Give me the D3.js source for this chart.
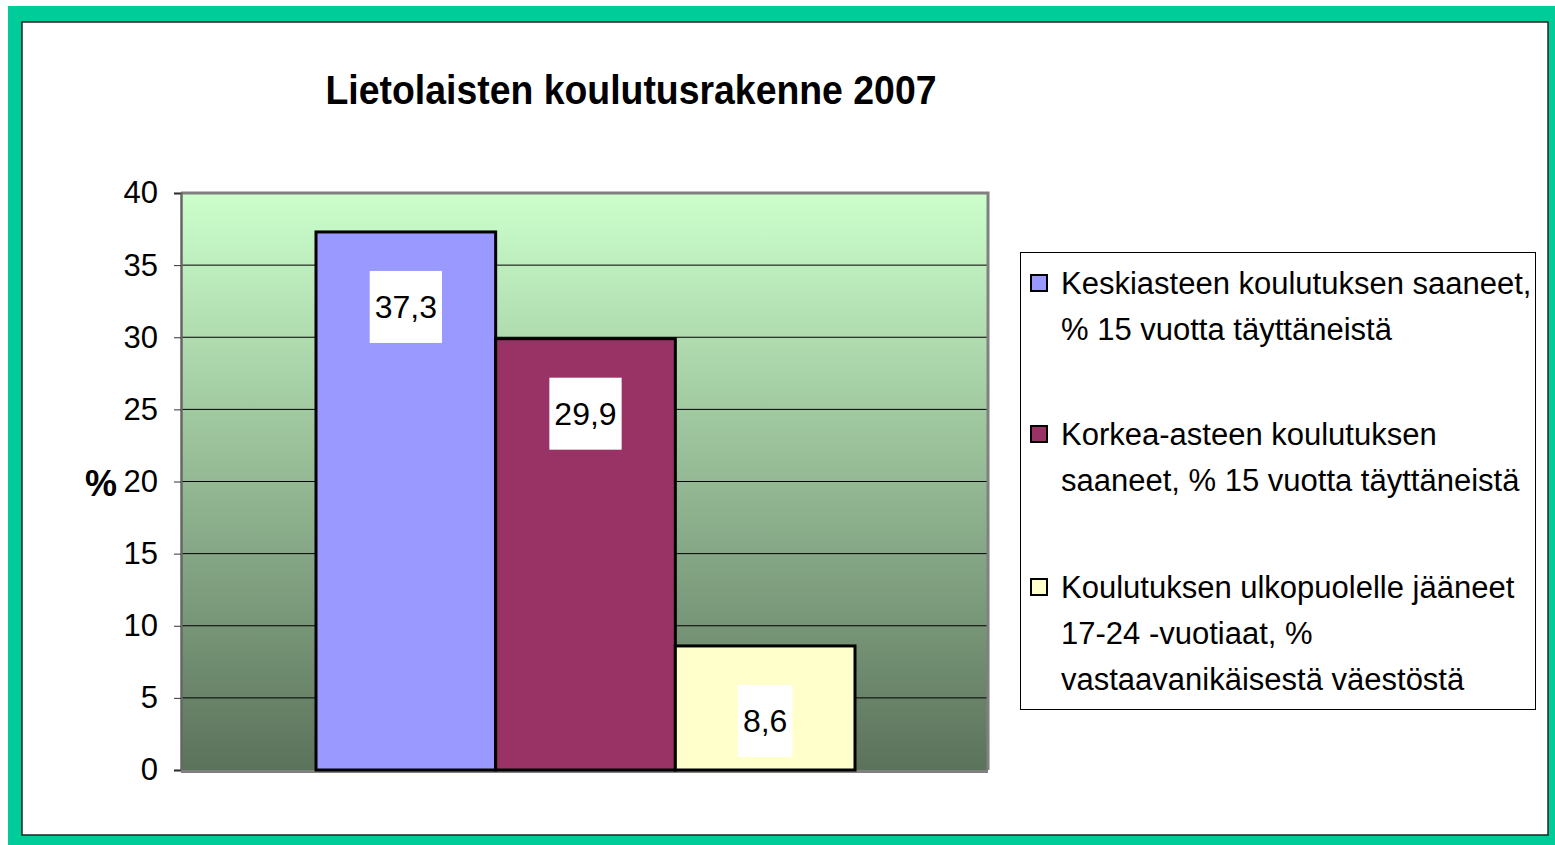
<!DOCTYPE html>
<html>
<head>
<meta charset="utf-8">
<script src="https://cdn.jsdelivr.net/npm/d3@7"></script>
<style>
  body { margin: 0; background: #fff; }
  svg { display: block; font-family: "Liberation Sans", Arial, sans-serif; }
</style>
</head>
<body>
<svg id="chart" width="1555" height="845"></svg>
<script>
const sarjat = [
  ["Keskiasteen koulutuksen saaneet,", "% 15 vuotta täyttäneistä"],
  ["Korkea-asteen koulutuksen", "saaneet, % 15 vuotta täyttäneistä"],
  ["Koulutuksen ulkopuolelle jääneet", "17-24 -vuotiaat, %", "vastaavanikäisestä väestöstä"]
];
const arvot = [37.3, 29.9, 8.6];
const arvoTekstit = ["37,3", "29,9", "8,6"];
const varit = ["#9999FF", "#993366", "#FFFFCC"];
const yTicks = [0, 5, 10, 15, 20, 25, 30, 35, 40];
const otsikko = "Lietolaisten koulutusrakenne 2007";

const svg = d3.select("#chart");

// kehys
svg.append("rect").attr("x", 8).attr("y", 6).attr("width", 1547).attr("height", 839).attr("fill", "#00CC99");
svg.append("rect").attr("x", 22).attr("y", 22).attr("width", 1526).attr("height", 813)
  .attr("fill", "#fff").attr("stroke", "#222").attr("stroke-width", 1.5);

// piirtoalue
const plot = { left: 181, top: 193, right: 988, bottom: 770 };

const y = d3.scaleLinear().domain([0, 40]).range([plot.bottom, plot.top]);
const x = d3.scaleBand().domain(d3.range(arvot.length)).range([316, 855]).padding(0);

const defs = svg.append("defs");
const grad = defs.append("linearGradient").attr("id", "tausta")
  .attr("x1", 0).attr("y1", 0).attr("x2", 0).attr("y2", 1);
grad.append("stop").attr("offset", "0%").attr("stop-color", "#CCFFCC");
grad.append("stop").attr("offset", "100%").attr("stop-color", "#5B725B");

svg.append("rect")
  .attr("x", plot.left).attr("y", plot.top)
  .attr("width", plot.right - plot.left).attr("height", plot.bottom - plot.top)
  .attr("fill", "url(#tausta)");

// ruudukko
svg.append("g").selectAll("line")
  .data(yTicks.filter(d => d > 0 && d < 40))
  .enter().append("line")
  .attr("x1", plot.left).attr("x2", plot.right)
  .attr("y1", d => y(d)).attr("y2", d => y(d))
  .attr("stroke", "#000").attr("stroke-width", 1);

// reunat ylhäällä ja oikealla
svg.append("path")
  .attr("d", `M${plot.left},${plot.top}H${plot.right}V${plot.bottom}`)
  .attr("fill", "none").attr("stroke", "#808080").attr("stroke-width", 3);

// y-akseli
const yAxis = d3.axisLeft(y).tickValues(yTicks).tickSize(7).tickPadding(16).tickFormat(d => d);
const ga = svg.append("g").attr("transform", `translate(${plot.left},0)`).call(yAxis);
ga.select(".domain").attr("stroke", "#666").attr("stroke-width", 2.5);
ga.selectAll(".tick line").attr("stroke", "#333");
ga.selectAll(".tick text")
  .attr("font-size", 31).attr("fill", "#000")
  .attr("font-family", "'Liberation Sans', Arial, sans-serif");

// x-akselin viiva
svg.append("line")
  .attr("x1", plot.left).attr("x2", plot.right)
  .attr("y1", plot.bottom + 1.5).attr("y2", plot.bottom + 1.5)
  .attr("stroke", "#808080").attr("stroke-width", 3);

// pylväät
svg.append("g").selectAll("rect")
  .data(arvot)
  .enter().append("rect")
  .attr("x", (d, i) => x(i))
  .attr("y", d => y(d))
  .attr("width", x.bandwidth())
  .attr("height", d => y(0) - y(d))
  .attr("fill", (d, i) => varit[i])
  .attr("stroke", "#000").attr("stroke-width", 3);

// arvotarrat
const tarrat = svg.append("g").selectAll("g")
  .data(arvot)
  .enter().append("g")
  .attr("transform", (d, i) => `translate(${x(i) + x.bandwidth() / 2},${y(d) + 75})`);

tarrat.append("rect").attr("fill", "#fff");
tarrat.append("text")
  .attr("text-anchor", "middle")
  .attr("dy", "0.36em")
  .attr("font-size", 32)
  .text((d, i) => arvoTekstit[i]);

tarrat.each(function () {
  const t = d3.select(this).select("text").node().getBBox();
  d3.select(this).select("rect")
    .attr("x", -t.width / 2 - 5).attr("y", -36)
    .attr("width", t.width + 10).attr("height", 72);
});

// y-akselin otsikko
svg.append("text")
  .attr("x", 101).attr("y", 483)
  .attr("text-anchor", "middle").attr("dy", "0.36em")
  .attr("font-size", 36).attr("font-weight", "bold")
  .text("%");

// otsikko
svg.append("text")
  .attr("x", 631).attr("y", 104)
  .attr("text-anchor", "middle")
  .attr("font-size", 41).attr("font-weight", "bold")
  .attr("font-family", "'Liberation Sans Narrow', 'Liberation Sans', Arial, sans-serif")
  .attr("textLength", 611).attr("lengthAdjust", "spacingAndGlyphs")
  .text(otsikko);

// selite
const legend = svg.append("g");
legend.append("rect")
  .attr("x", 1020.5).attr("y", 252.5).attr("width", 1515).attr("height", 457)
  .attr("width", 515)
  .attr("fill", "#fff").attr("stroke", "#000").attr("stroke-width", 1);

const rivi = 46;
const alut = [283, 434, 587];
const items = legend.selectAll(".legend-item")
  .data(sarjat)
  .enter().append("g")
  .attr("class", "legend-item")
  .attr("transform", (d, i) => `translate(1031,${alut[i]})`);

items.append("rect")
  .attr("x", 0).attr("y", -8).attr("width", 16).attr("height", 16)
  .attr("fill", (d, i) => varit[i])
  .attr("stroke", "#000").attr("stroke-width", 2);

items.each(function (d) {
  d3.select(this).selectAll("text")
    .data(d)
    .enter().append("text")
    .attr("x", 30)
    .attr("y", (s, j) => j * rivi)
    .attr("dy", "0.36em")
    .attr("font-size", 31)
    .text(s => s);
});
</script>
</body>
</html>
